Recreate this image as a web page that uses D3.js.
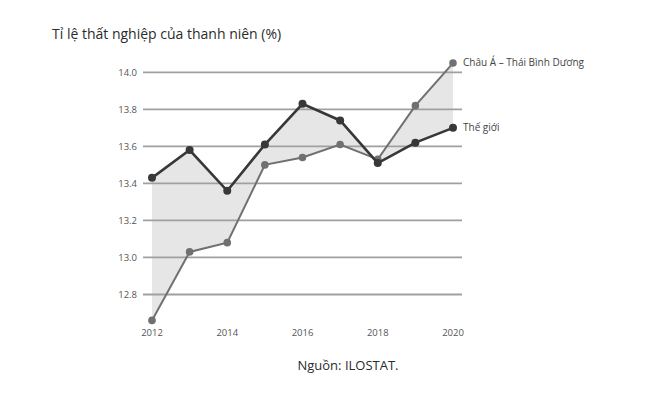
<!DOCTYPE html>
<html>
<head>
<meta charset="utf-8">
<script src="https://cdn.jsdelivr.net/npm/d3@7"></script>
<style>
  body { margin: 0; background: #fff; }
  svg text { font-family: "Open Sans", "Noto Sans", sans-serif; }
</style>
</head>
<body>
<svg id="chart" width="662" height="395"></svg>
<script>
var years = [2012, 2013, 2014, 2015, 2016, 2017, 2018, 2019, 2020];
var world = [13.43, 13.58, 13.36, 13.61, 13.83, 13.74, 13.51, 13.62, 13.70];
var asiaPacific = [12.66, 13.03, 13.08, 13.50, 13.54, 13.61, 13.53, 13.82, 14.05];
var yTicks = [12.8, 13.0, 13.2, 13.4, 13.6, 13.8, 14.0];
var xTicks = [2012, 2014, 2016, 2018, 2020];

var svg = d3.select("#chart");

var x = d3.scaleLinear().domain([2012, 2020]).range([152, 453]);
var y = d3.scaleLinear().domain([12.8, 14.0]).range([294.5, 72.3]);

svg.append("text")
    .attr("x", 52).attr("y", 39)
    .style("font-size", "14px")
    .style("fill", "#2b2b2b")
    .text("Tỉ lệ thất nghiệp của thanh niên (%)");

// shaded area between the two series
var rows = years.map(function(d, i) {
    return {year: d, w: world[i], a: asiaPacific[i]};
});
svg.append("path")
    .datum(rows)
    .attr("d", d3.area()
	  .x(d => x(d.year))
	  .y0(d => y(d.w))
	  .y1(d => y(d.a)))
    .style("fill", "#e6e6e6");

// gridlines
svg.selectAll(".grid")
    .data(yTicks)
    .enter().append("line")
    .attr("class", "grid")
    .attr("x1", 143).attr("x2", 462)
    .attr("y1", d => y(d)).attr("y2", d => y(d))
    .style("stroke", "#a0a0a0")
    .style("stroke-width", 1.8);

svg.selectAll(".ylab")
    .data(yTicks)
    .enter().append("text")
    .attr("class", "ylab")
    .attr("x", 137)
    .attr("y", d => y(d))
    .attr("text-anchor", "end")
    .attr("dominant-baseline", "central")
    .style("font-size", "9.5px")
    .style("fill", "#555")
    .text(d => d.toFixed(1));

svg.selectAll(".xlab")
    .data(xTicks)
    .enter().append("text")
    .attr("class", "xlab")
    .attr("x", d => x(d))
    .attr("y", 336)
    .attr("text-anchor", "middle")
    .style("font-size", "9.5px")
    .style("fill", "#555")
    .text(d => d);

var line = d3.line()
    .x((d, i) => x(years[i]))
    .y(d => y(d));

function drawSeries(vals, color, width, r) {
    svg.append("path")
	.datum(vals)
	.attr("d", line)
	.style("fill", "none")
	.style("stroke", color)
	.style("stroke-width", width);
    svg.append("g").selectAll("circle")
	.data(vals)
	.enter().append("circle")
	.attr("cx", (d, i) => x(years[i]))
	.attr("cy", d => y(d))
	.attr("r", r)
	.style("fill", color);
}

drawSeries(asiaPacific, "#707070", 2, 3.8);
drawSeries(world, "#383838", 2.6, 4);

svg.append("text")
    .attr("x", 463).attr("y", y(14.05) + 3)
    .style("font-size", "10px")
    .style("fill", "#444")
    .text("Châu Á – Thái Bình Dương");

svg.append("text")
    .attr("x", 463).attr("y", y(13.70) + 3)
    .style("font-size", "10px")
    .style("fill", "#444")
    .text("Thế giới");

svg.append("text")
    .attr("x", 348).attr("y", 370)
    .attr("text-anchor", "middle")
    .style("font-size", "13px")
    .style("fill", "#2b2b2b")
    .text("Nguồn: ILOSTAT.");
</script>
</body>
</html>
